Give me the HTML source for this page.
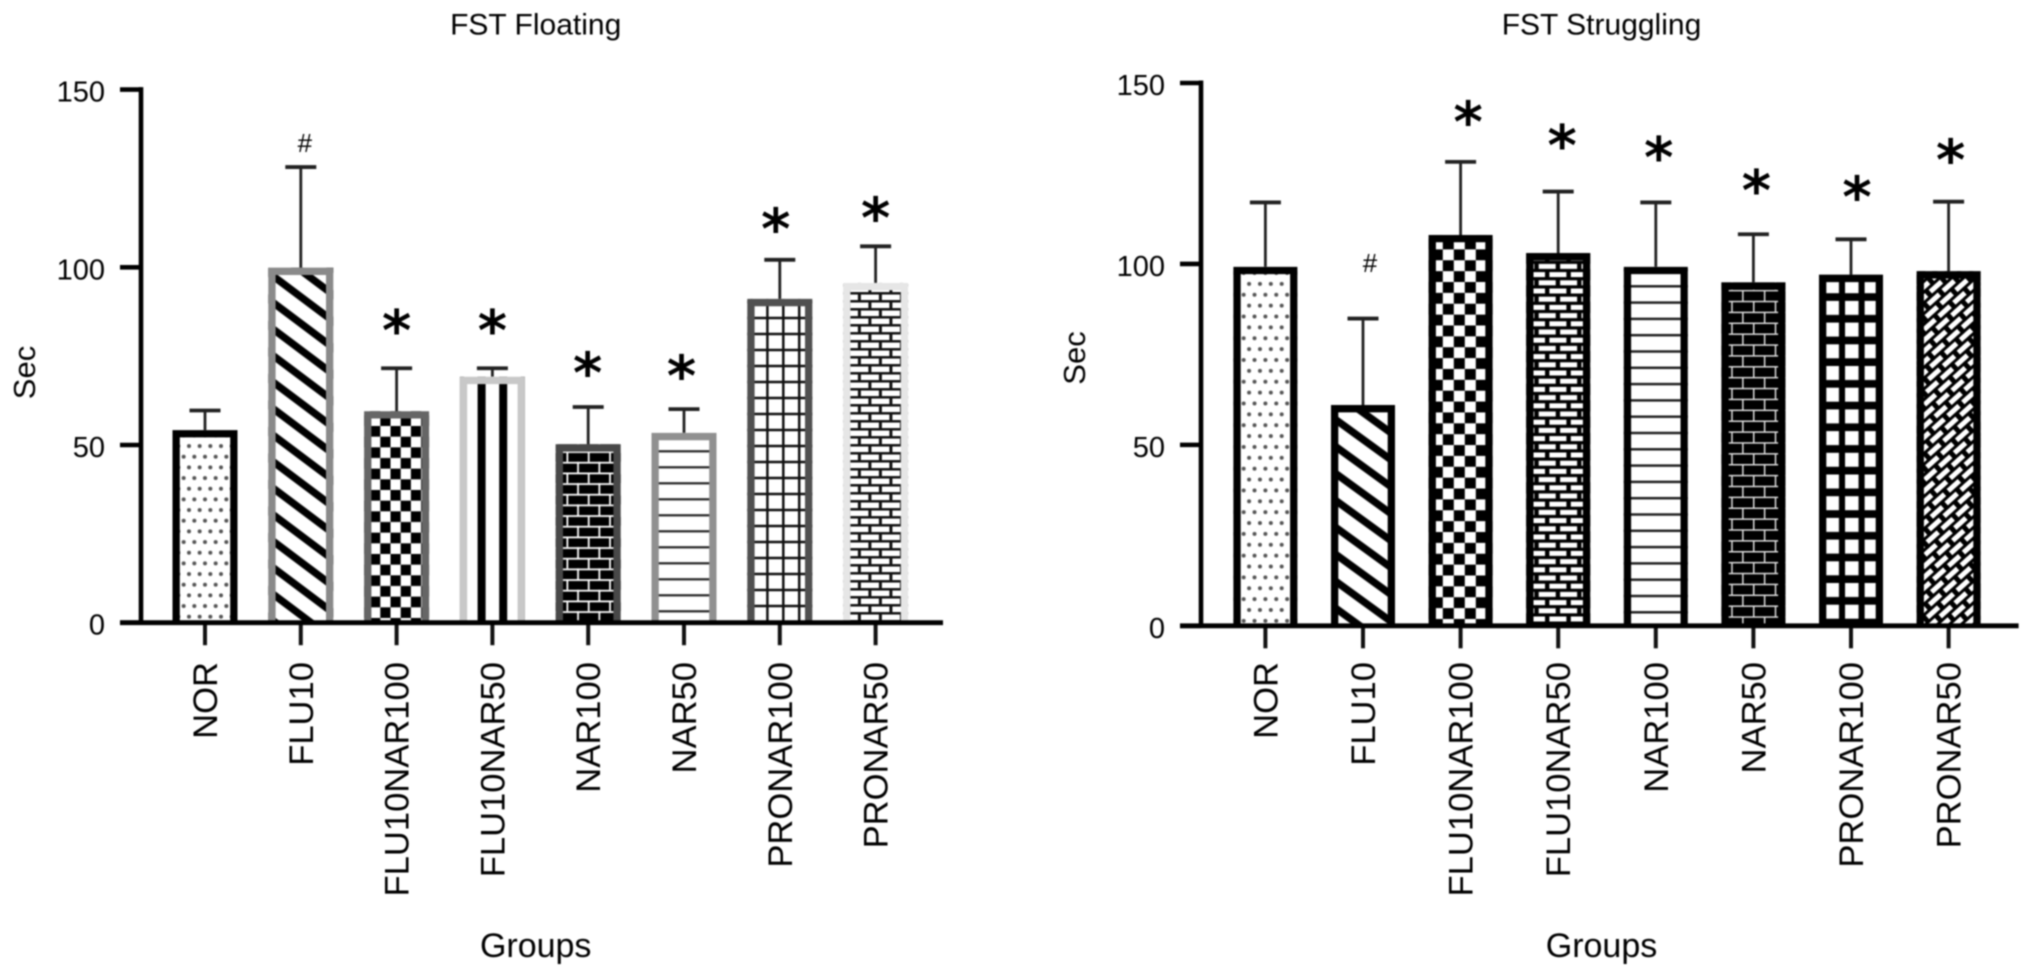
<!DOCTYPE html>
<html lang="en">
<head>
<meta charset="utf-8">
<title>FST Floating and Struggling</title>
<style>
html,body{margin:0;padding:0;background:#fff;width:2032px;height:977px;overflow:hidden}
svg{display:block;filter:blur(0.8px)}
text{font-family:"Liberation Sans",Arial,sans-serif;fill:#000}
</style>
</head>
<body>
<svg id="figure" xmlns="http://www.w3.org/2000/svg" width="2032" height="977" viewBox="0 0 2032 977">
<defs>
  <pattern id="l-dots" patternUnits="userSpaceOnUse" width="10.67" height="21.33" patternTransform="translate(0,-11.33)">
    <rect width="10.67" height="21.33" fill="#fff"/><circle cx="5.33" cy="5.33" r="2" fill="#555"/><circle cx="0" cy="16" r="2" fill="#555"/><circle cx="10.67" cy="16" r="2" fill="#555"/>
  </pattern>
  <pattern id="l-diag" patternUnits="userSpaceOnUse" width="21.2" height="21.2" patternTransform="translate(0,-7.7) rotate(36.9)">
    <rect width="21.2" height="21.2" fill="#fff"/><rect y="0" width="21.2" height="3.7" fill="#000"/><rect y="17.5" width="21.2" height="3.7" fill="#000"/>
  </pattern>
  <pattern id="l-check" patternUnits="userSpaceOnUse" width="20.4" height="21.33" patternTransform="translate(-6.1,-4.73)">
    <rect width="20.4" height="21.33" fill="#fff"/><rect width="10.2" height="10.67" fill="#000"/><rect x="10.2" y="10.67" width="10.2" height="10.67" fill="#000"/>
  </pattern>
  <pattern id="l-vert" patternUnits="userSpaceOnUse" width="21.6" height="20" patternTransform="translate(6.8,0)">
    <rect width="21.6" height="20" fill="#fff"/><rect width="8" height="20" fill="#000"/>
  </pattern>
  <pattern id="l-brick-dark" patternUnits="userSpaceOnUse" width="21.33" height="21.33" patternTransform="translate(-0.4,-0.9)">
    <rect width="21.33" height="21.33" fill="#000"/><rect y="0" width="21.33" height="1.8" fill="#fff"/><rect y="10.67" width="21.33" height="1.8" fill="#fff"/><rect x="0" y="0" width="1.8" height="10.67" fill="#fff"/><rect x="10.67" y="10.67" width="1.8" height="10.67" fill="#fff"/>
  </pattern>
  <pattern id="l-horiz" patternUnits="userSpaceOnUse" width="20" height="16" patternTransform="translate(0,-12.5)">
    <rect width="20" height="16" fill="#fff"/><rect width="20" height="2.2" fill="#222"/>
  </pattern>
  <pattern id="l-grid" patternUnits="userSpaceOnUse" width="15.9" height="16" patternTransform="translate(2.25,-1.95)">
    <rect width="15.9" height="16" fill="#fff"/><rect width="2.5" height="16" fill="#111"/><rect width="15.9" height="2.5" fill="#111"/>
  </pattern>
  <pattern id="l-brick-light" patternUnits="userSpaceOnUse" width="21" height="16" patternTransform="translate(-14.7,-8.15)">
    <rect width="21" height="16" fill="#111"/><rect x="0" y="0" width="18" height="5.5" fill="#fff"/><rect x="10.5" y="8" width="10.5" height="5.5" fill="#fff"/><rect x="0" y="8" width="7.5" height="5.5" fill="#fff"/>
  </pattern>
  <pattern id="r-dots" patternUnits="userSpaceOnUse" width="10.87" height="21.74" patternTransform="translate(0,0.5)">
    <rect width="10.87" height="21.74" fill="#fff"/><circle cx="5.43" cy="5.43" r="2" fill="#555"/><circle cx="0" cy="16.3" r="2" fill="#555"/><circle cx="10.87" cy="16.3" r="2" fill="#555"/>
  </pattern>
  <pattern id="r-diag" patternUnits="userSpaceOnUse" width="21.8" height="21.8" patternTransform="translate(0,2.3) rotate(36)">
    <rect width="21.8" height="21.8" fill="#fff"/><rect y="0" width="21.8" height="3.7" fill="#000"/><rect y="18.1" width="21.8" height="3.7" fill="#000"/>
  </pattern>
  <pattern id="r-check" patternUnits="userSpaceOnUse" width="22" height="21.74" patternTransform="translate(-6.8,-6.83)">
    <rect width="22" height="21.74" fill="#fff"/><rect width="11" height="10.87" fill="#000"/><rect x="11" y="10.87" width="11" height="10.87" fill="#000"/>
  </pattern>
  <pattern id="r-brick-light" patternUnits="userSpaceOnUse" width="21.4" height="16.4" patternTransform="translate(-8.8,-9.3)">
    <rect width="21.4" height="16.4" fill="#000"/><rect x="0" y="0" width="17" height="5" fill="#fff"/><rect x="10.7" y="8.2" width="10.7" height="5" fill="#fff"/><rect x="0" y="8.2" width="6.3" height="5" fill="#fff"/>
  </pattern>
  <pattern id="r-horiz" patternUnits="userSpaceOnUse" width="20" height="16.3" patternTransform="translate(0,-14.75)">
    <rect width="20" height="16.3" fill="#fff"/><rect width="20" height="2.5" fill="#222"/>
  </pattern>
  <pattern id="r-brick-dark" patternUnits="userSpaceOnUse" width="21.76" height="21.76" patternTransform="translate(-0.4,-9.5)">
    <rect width="21.76" height="21.76" fill="#000"/><rect y="0" width="21.76" height="1.5" fill="#ddd"/><rect y="10.88" width="21.76" height="1.5" fill="#ddd"/><rect x="10.88" y="0" width="1.5" height="10.88" fill="#ddd"/><rect x="0" y="10.88" width="1.5" height="10.88" fill="#ddd"/>
  </pattern>
  <pattern id="r-grid" patternUnits="userSpaceOnUse" width="19.6" height="21.7" patternTransform="translate(-5.95,-21.1)">
    <rect width="19.6" height="21.7" fill="#000"/><rect width="13.5" height="14" fill="#fff"/>
  </pattern>
  <pattern id="r-hatch" patternUnits="userSpaceOnUse" width="20" height="16" patternTransform="rotate(-42)">
    <rect width="20" height="16" fill="#000"/><rect x="0" y="1" width="15" height="5" fill="#fff"/><rect x="10" y="9" width="10" height="5" fill="#fff"/><rect x="0" y="9" width="5" height="5" fill="#fff"/>
  </pattern>
</defs>
</svg>
<script>
// ---- data ----
const categories = ["NOR","FLU10","FLU10NAR100","FLU10NAR50","NAR100","NAR50","PRONAR100","PRONAR50"];
const yTicks = [0, 50, 100, 150];
const floatingMeans = [54.2, 99.9, 59.5, 69.2, 50.2, 53.4, 91.1, 95.6];
const floatingErrorTops = [59.7, 128.2, 71.6, 71.6, 60.7, 60.1, 102.1, 105.9];
const floatingMarks = ["", "#", "*", "*", "*", "*", "*", "*"];
const floatingMarkLevels = [0, 134.7, 84, 84, 72, 71.2, 112.6, 115.7];
const strugglingMeans = [99.2, 61, 108, 103, 99.2, 94.9, 97, 98];
const strugglingErrorTops = [117, 84.9, 128.2, 120, 117, 108.2, 106.8, 117.2];
const strugglingMarks = ["", "#", "*", "*", "*", "*", "*", "*"];
const strugglingMarkLevels = [0, 99.9, 140.9, 134.4, 131.2, 122, 120.2, 130.4];

const NS = "http://www.w3.org/2000/svg";
const figure = document.getElementById("figure");

function make(parent, tag, attrs, text) {
  const el = document.createElementNS(NS, tag);
  for (const k in attrs) el.setAttribute(k, attrs[k]);
  if (text !== undefined) el.textContent = text;
  parent.appendChild(el);
  return el;
}

function drawChart(cfg) {
  const domainMax = yTicks[yTicks.length - 1];
  const yScale = v => cfg.y0 - (v / domainMax) * (cfg.y0 - cfg.yTop);
  const xScale = i => cfg.x0 + i * cfg.step;

  const root = make(figure, "g", {});
  
  

  const title = make(root, "text", {x: cfg.titleX, y: 34.5, "text-anchor": "middle", "font-size": 30}, cfg.title);
  
  

  const yTitle = make(root, "text", {transform: "translate(" + cfg.yTitleX + "," + cfg.yTitleY + ") rotate(-90)", "text-anchor": "middle", "font-size": 31}, "Sec");
  
  

  const xTitle = make(root, "text", {x: cfg.titleX, y: 957, "text-anchor": "middle", "font-size": 34}, "Groups");
  
  

  categories.forEach((cat, i) => {
    const cx = xScale(i);
    const yTop = yScale(cfg.means[i]);
    const h = cfg.y0 - yTop;
    const w = cfg.barWidth, b = 7.3;

    const errStem = make(root, "line", {x1: cx, x2: cx, y1: yTop, y2: yScale(cfg.errorTops[i]), stroke: "#222", "stroke-width": 2.8});
    
    
    const errCap = make(root, "line", {x1: cx - 15.5, x2: cx + 15.5, y1: yScale(cfg.errorTops[i]), y2: yScale(cfg.errorTops[i]), stroke: "#222", "stroke-width": 3.8});
    
    

    const g = make(root, "g", {transform: "translate(" + cx + "," + cfg.y0 + ")"});
    
    
    make(g, "rect", {x: -w / 2, y: -h, width: w, height: h, fill: "url(#" + cfg.patterns[i] + ")"});
    make(g, "path", {d: "M" + (-w / 2 + b / 2) + " 0V" + (-h + b / 2) + "H" + (w / 2 - b / 2) + "V0", fill: "none", stroke: cfg.borders[i], "stroke-width": b});

    const tick = make(root, "line", {x1: cx, x2: cx, y1: cfg.y0, y2: cfg.y0 + 22.5, stroke: "#111", "stroke-width": 4});
    
    

    const label = make(root, "text", {transform: "translate(" + (cx + 12) + ",662) rotate(-90)", "text-anchor": "end", "font-size": 34.6}, cat);
    
    

    if (cfg.marks[i]) {
      const isStar = cfg.marks[i] === "*";
      const size = isStar ? 56 : 26;
      const mark = make(root, "text", {
        x: cx + cfg.markNudges[i],
        y: yScale(cfg.markLevels[i]) + (isStar ? size * 0.46 : size * 0.3),
        "text-anchor": "middle",
        "font-size": size,
        "font-weight": isStar ? "bold" : "normal",
        style: isStar ? 'font-family:"DejaVu Sans",sans-serif;fill:#000' : ""
      }, cfg.marks[i]);
      
      
    }
  });

  const yAxis = make(root, "line", {x1: cfg.axisX, x2: cfg.axisX, y1: cfg.yTop - 2.5, y2: cfg.y0, stroke: "#000", "stroke-width": 4.6});
  
  
  const xAxis = make(root, "line", {x1: cfg.axisX - 21, x2: cfg.axisEnd, y1: cfg.y0, y2: cfg.y0, stroke: "#000", "stroke-width": 4.8});
  
  

  yTicks.forEach(t => {
    const yy = yScale(t);
    const tk = make(root, "line", {x1: cfg.axisX - 21, x2: cfg.axisX, y1: yy, y2: yy, stroke: "#000", "stroke-width": 4.6});
    
    
    const lb = make(root, "text", {x: cfg.axisX - 36, y: yy + 12, "text-anchor": "end", "font-size": 29}, String(t));
    
    
  });
}

drawChart({
  name: "fst-floating-chart", title: "FST Floating",
  means: floatingMeans, errorTops: floatingErrorTops, marks: floatingMarks, markLevels: floatingMarkLevels,
  markNudges: [0, 4, 0, 0, -0.6, -2.5, -4, 0],
  patterns: ["l-dots","l-diag","l-check","l-vert","l-brick-dark","l-horiz","l-grid","l-brick-light"],
  borders: ["#000","#8a8a8a","#666","#c8c8c8","#484848","#909090","#505050","#e6e6e6"],
  y0: 622.7, yTop: 89.6, x0: 205, step: 95.8, barWidth: 65, axisX: 141, axisEnd: 943,
  titleX: 535.7, yTitleX: 35, yTitleY: 372.5
});

drawChart({
  name: "fst-struggling-chart", title: "FST Struggling",
  means: strugglingMeans, errorTops: strugglingErrorTops, marks: strugglingMarks, markLevels: strugglingMarkLevels,
  markNudges: [0, 7, 7.6, 4, 3, 3, 6, 2],
  patterns: ["r-dots","r-diag","r-check","r-brick-light","r-horiz","r-brick-dark","r-grid","r-hatch"],
  borders: ["#000","#000","#000","#000","#000","#000","#000","#000"],
  y0: 625.8, yTop: 83, x0: 1265.4, step: 97.6, barWidth: 64, axisX: 1201, axisEnd: 2018.6,
  titleX: 1601.5, yTitleX: 1085, yTitleY: 358
});
</script>
</body>
</html>
